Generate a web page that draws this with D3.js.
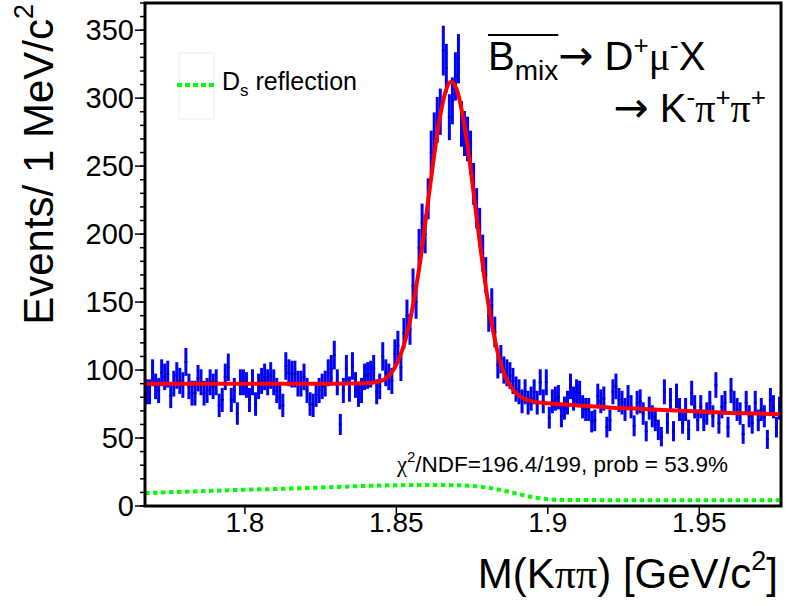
<!DOCTYPE html>
<html><head><meta charset="utf-8">
<script src="https://cdn.jsdelivr.net/npm/d3@7"></script>
<style>body{margin:0;background:#fff}svg{display:block}text{font-family:"Liberation Sans",Arial,sans-serif;fill:#000}</style>
</head><body><svg id="c" width="786" height="606"></svg>
<script>
// ---- data ----
const binStart = 1.767, binWidth = 0.001;
const counts = [
 84,84,98,88,85,98,95,97,81,90, 96,92,89,106,88,83,83,94,91,83,
 85,91,88,91,74,78,95,102,78,85, 68,91,91,89,78,91,75,88,92,95,
 91,96,91,85,80,74,103,98,97,97, 90,90,95,85,75,74,82,85,88,90,
 98,101,111,91,60,85,101,86,103,89, 82,85,95,96,97,101,84,88,110,98,
 95,
 92,112,118,102,127,140,130,162,150,190, 208,200,226,260,273,284,290,335,322,286,
 298,316,329,281,274,270,260,237,219,205, 186,170,140,148,128,104,108,100,98,96,
 92,86,84,
 77,84,76,79,84,76,91,77,91,65, 77,79,80,66,72,76,88,79,84,83,
 73,71,71,62,63,81,77,79,58,63, 84,88,78,76,71,80,73,59,76,77,
 68,55,72,66,63,56,51,84,61,78, 55,81,71,61,71,56,83,73,63,73,
 63,68,76,66,89,61,73,76,58,85, 76,71,68,53,76,66,61,76,63,71,
 66,49,78,73,58,72
];
const fitX = [1.767,1.780,1.800,1.820,1.830,1.840,1.844,1.846,1.848,1.850,1.852,1.854,1.856,1.858,1.860,1.862,1.864,1.866,1.868,1.870,1.872,1.874,1.876,1.878,1.880,1.882,1.884,1.886,1.888,1.890,1.892,1.895,1.900,1.910,1.920,1.930,1.940,1.950,1.960,1.970,1.977];
const fitY = [90,90,90,90,90,90.3,91.5,93,97,104,115,131,154,182,216,250,281,303,312,306,286,257,221,186,154,128,108,95,87,82,79,77,75.5,74,72.5,71.5,70.5,69.5,68.5,68,67.5];
const reflX = [1.767,1.780,1.790,1.800,1.810,1.820,1.830,1.840,1.850,1.860,1.870,1.875,1.880,1.885,1.890,1.895,1.900,1.905,1.920,1.950,1.977];
const reflY = [9.5,10.5,11.2,12,12.5,13.2,14,14.8,15.3,15.5,15.3,14.8,13.5,11.5,9,6.5,5,4.5,4.3,4.2,4.2];
const yTicks = [0,50,100,150,200,250,300,350];
const yMinor = d3.range(0, 371, 10);
const xTicks = [1.8,1.85,1.9,1.95];
const xTickLabels = ["1.8","1.85","1.9","1.95"];

// ---- layout ----
const L = 145, R = 781, T = 3, B = 506;
const svg = d3.select("#c");
const x = d3.scaleLinear().domain([1.767, 1.977]).range([L, R]);
const y = d3.scaleLinear().domain([0, 370]).range([B, T]);

svg.append("rect").attr("width",786).attr("height",606).attr("fill","#fff");
svg.append("clipPath").attr("id","clip").append("rect").attr("x",L).attr("y",T).attr("width",R-L).attr("height",B-T);
const plot = svg.append("g").attr("clip-path","url(#clip)");

// reflection (green dotted)
plot.append("path")
  .attr("d", d3.line().x((d,i)=>x(reflX[i])).y(d=>y(d)).curve(d3.curveMonotoneX)(reflY))
  .attr("fill","none").attr("stroke","#00ff00").attr("stroke-width",4).attr("stroke-dasharray","4.5,3.5");

// data error bars
const bins = counts.map((c,i)=>({x: binStart + binWidth*(i+0.5), c}));
plot.selectAll("line.err").data(bins).enter().append("line")
  .attr("x1",d=>x(d.x)).attr("x2",d=>x(d.x))
  .attr("y1",d=>y(d.c+Math.sqrt(d.c))).attr("y2",d=>y(d.c-Math.sqrt(d.c)))
  .attr("stroke","#0000ff").attr("stroke-width",3);
plot.selectAll("rect.mk").data(bins).enter().append("rect")
  .attr("x",d=>x(d.x)-1.5).attr("y",d=>y(d.c)-1).attr("width",3).attr("height",2)
  .attr("fill","#0000b0");

// fit curve
plot.append("path")
  .attr("d", d3.line().x((d,i)=>x(fitX[i])).y(d=>y(d)).curve(d3.curveMonotoneX)(fitY))
  .attr("fill","none").attr("stroke","#ff0000").attr("stroke-width",4);

// frame
svg.append("rect").attr("x",L).attr("y",T).attr("width",R-L).attr("height",B-T)
  .attr("fill","none").attr("stroke","#000").attr("stroke-width",3);

// y axis ticks
svg.selectAll("line.ymin").data(yMinor).enter().append("line")
  .attr("x1",L-5).attr("x2",L).attr("y1",d=>y(d)).attr("y2",d=>y(d))
  .attr("stroke","#000").attr("stroke-width",1.5);
svg.selectAll("line.ymaj").data(yTicks).enter().append("line")
  .attr("x1",L-10).attr("x2",L).attr("y1",d=>y(d)).attr("y2",d=>y(d))
  .attr("stroke","#000").attr("stroke-width",1.5);
svg.selectAll("text.ylab").data(yTicks).enter().append("text")
  .attr("x",L-11).attr("y",d=>y(d)+10).attr("text-anchor","end").attr("font-size",29)
  .text(d=>d);

// x axis ticks
svg.selectAll("line.xmaj").data(xTicks).enter().append("line")
  .attr("x1",d=>x(d)).attr("x2",d=>x(d)).attr("y1",B).attr("y2",B+8)
  .attr("stroke","#000").attr("stroke-width",1.5);
svg.selectAll("text.xlab").data(xTicks).enter().append("text")
  .attr("x",d=>x(d)).attr("y",532).attr("text-anchor","middle").attr("font-size",28)
  .text((d,i)=>xTickLabels[i]);

// axis titles
const yt = svg.append("text").attr("transform","translate(53,4) rotate(-90)")
  .attr("text-anchor","end").attr("font-size",42);
yt.append("tspan").text("Events/ 1 MeV/c");
yt.append("tspan").attr("font-size",27).attr("dy",-20).text("2");

const xt = svg.append("text").attr("x",778).attr("y",588).attr("text-anchor","end").attr("font-size",42);
xt.append("tspan").text("M(K");
xt.append("tspan").attr("font-family","Liberation Serif, serif").text("ππ");
xt.append("tspan").text(") [GeV/c");
xt.append("tspan").attr("font-size",27).attr("dy",-18).text("2");
xt.append("tspan").attr("dy",18).text("]");

// legend
svg.append("rect").attr("x",179).attr("y",53).attr("width",35).attr("height",66)
  .attr("fill","#fff").attr("stroke","#ececec").attr("stroke-width",1);
svg.append("line").attr("x1",177).attr("x2",215).attr("y1",85).attr("y2",85)
  .attr("stroke","#00ff00").attr("stroke-width",4).attr("stroke-dasharray","5,3");
const lg = svg.append("text").attr("x",222).attr("y",90).attr("font-size",25);
lg.append("tspan").text("D");
lg.append("tspan").attr("font-size",17).attr("dy",6).text("s");
lg.append("tspan").attr("dy",-6).text(" reflection");

// decay title
const t1 = svg.append("text").attr("x",488).attr("y",70).attr("font-size",40);
const tB = t1.append("tspan").text("B");
const tMix = t1.append("tspan").attr("font-size",28).attr("dy",10).text("mix");
t1.append("tspan").attr("dy",-10).attr("font-family","DejaVu Sans, sans-serif").attr("font-size",42).text("\u2192");
t1.append("tspan").text(" D");
t1.append("tspan").attr("font-size",26).attr("dy",-16).text("+");
t1.append("tspan").attr("dy",16).attr("font-family","Liberation Serif, serif").text("μ");
t1.append("tspan").attr("font-size",26).attr("dy",-16).text("-");
t1.append("tspan").attr("dy",16).text("X");
const wB = tB.node().getComputedTextLength() + tMix.node().getComputedTextLength();
svg.append("line").attr("x1",488).attr("x2",488+wB).attr("y1",35).attr("y2",35)
  .attr("stroke","#000").attr("stroke-width",2);

const t2 = svg.append("text").attr("x",766).attr("y",122).attr("font-size",40).attr("text-anchor","end");
t2.append("tspan").attr("font-family","DejaVu Sans, sans-serif").attr("font-size",42).text("\u2192");
t2.append("tspan").text(" K");
t2.append("tspan").attr("font-size",26).attr("dy",-16).text("-");
t2.append("tspan").attr("dy",16).attr("font-family","Liberation Serif, serif").text("π");
t2.append("tspan").attr("font-size",26).attr("dy",-16).text("+");
t2.append("tspan").attr("dy",16).attr("font-family","Liberation Serif, serif").text("π");
t2.append("tspan").attr("font-size",26).attr("dy",-16).text("+");

// chi2 text
const ct = svg.append("text").attr("x",397).attr("y",472).attr("font-size",22.5);
ct.append("tspan").attr("font-family","Liberation Serif, serif").text("χ");
ct.append("tspan").attr("font-size",15).attr("dy",-10).text("2");
ct.append("tspan").attr("dy",10).text("/NDF=196.4/199, prob = 53.9%");
</script></body></html>
